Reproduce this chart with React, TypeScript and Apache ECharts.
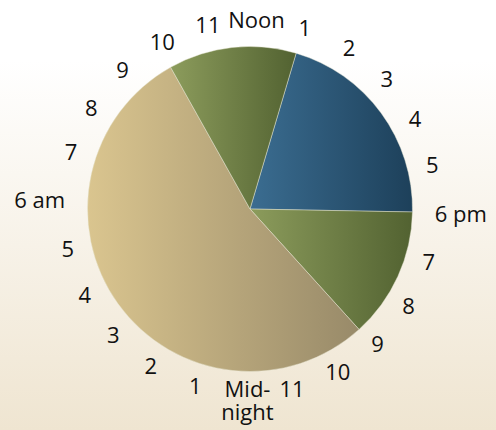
import { useEffect, useRef } from 'react';
import * as echarts from 'echarts';

// Clock-face labels, clockwise from the top (noon); each one marks one hour of the dial
const CLOCK_LABELS = [
  'Noon', '1', '2', '3', '4', '5', '6 pm', '7', '8', '9', '10', '11',
  'Mid-\nnight', '1', '2', '3', '4', '5', '6 am', '7', '8', '9', '10', '11',
];
const HOURS_PER_TICK = 1;

// Day segments, clockwise starting at ~1 pm
const SEGMENT_NAMES = ['Afternoon', 'Evening', 'Night', 'Late morning'];
const SEGMENT_HOURS = [4.97, 3.12, 12.86, 3.05];
const FIRST_SEGMENT_START_HOUR = 13.1; // on a 24 h clock

const SEGMENT_COLORS: [string, string][] = [
  ['#3b6d91', '#1d405a'],
  ['#8c9c5c', '#526231'],
  ['#dac58f', '#988a69'],
  ['#8c9c5c', '#526231'],
];

const CENTER: [number, number] = [250, 209];
const RADIUS = 162.5;
const DIAL_CENTER: [number, number] = [250, 206];
const DIAL_RING: [number, number] = [173, 195];
const DIAL_TILT_DEG = 2;

export default function App() {
  const ref = useRef<HTMLDivElement>(null);

  useEffect(() => {
    if (!ref.current) return;
    const chart = echarts.init(ref.current, undefined, { renderer: 'svg' });
    const ticks = CLOCK_LABELS.length;
    const degPerHour = 360 / (ticks * HOURS_PER_TICK);
    const startAngle = 90 - (FIRST_SEGMENT_START_HOUR - 12) * degPerHour;
    const quarter = ticks / 4;
    const midnightIndex = 2 * quarter;

    chart.setOption({
      animation: false,
      series: [
        {
          type: 'pie',
          center: CENTER,
          radius: RADIUS,
          startAngle,
          clockwise: true,
          silent: true,
          label: { show: false },
          labelLine: { show: false },
          data: SEGMENT_HOURS.map((v, i) => ({
            name: SEGMENT_NAMES[i],
            value: v,
            itemStyle: {
              color: {
                type: 'linear',
                x: 0, y: 0, x2: 1, y2: 0,
                colorStops: [
                  { offset: 0, color: SEGMENT_COLORS[i][0] },
                  { offset: 1, color: SEGMENT_COLORS[i][1] },
                ],
              },
              borderColor: 'rgba(235,235,215,0.55)',
              borderWidth: 0.8,
            },
          })),
        },
        {
          // the clock dial: one transparent sector per hour, carrying its label
          type: 'pie',
          center: DIAL_CENTER,
          radius: DIAL_RING,
          startAngle: 90 + degPerHour / 2 - DIAL_TILT_DEG,
          clockwise: true,
          silent: true,
          itemStyle: { color: 'rgba(0,0,0,0)', borderWidth: 0 },
          label: {
            show: true,
            position: 'inside',
            fontSize: 22,
            lineHeight: 22,
            fontFamily: 'Open Sans',
            color: '#111111',
          },
          labelLine: { show: false },
          // the two-line midnight label hangs a little lower below the dial
          labelLayout: (params: any) =>
            params.dataIndex === midnightIndex ? { dy: 7 } : {},
          data: CLOCK_LABELS.map((label, i) => {
            const item: any = { name: label + '#' + i, value: HOURS_PER_TICK };
            item.label = { formatter: () => label };
            // the wide "6 pm" / "6 am" labels sit beside the dial rather than centred on it
            if (i % (2 * quarter) === quarter) {
              item.label.padding = i < 2 * quarter ? [0, 0, 0, 48] : [0, 47, 0, 0];
            }
            if (i === midnightIndex) {
              item.label.padding = [0, 0, 0, 8];
              item.label.lineHeight = 23;
            }
            return item;
          }),
        },
      ],
    });
    return () => chart.dispose();
  }, []);

  return (
    <div
      ref={ref}
      style={{
        position: 'fixed',
        left: 0,
        top: 0,
        width: 496,
        height: 430,
        background: 'linear-gradient(to bottom, #ffffff 0%, #ffffff 14%, #efe5d1 100%)',
      }}
    />
  );
}
